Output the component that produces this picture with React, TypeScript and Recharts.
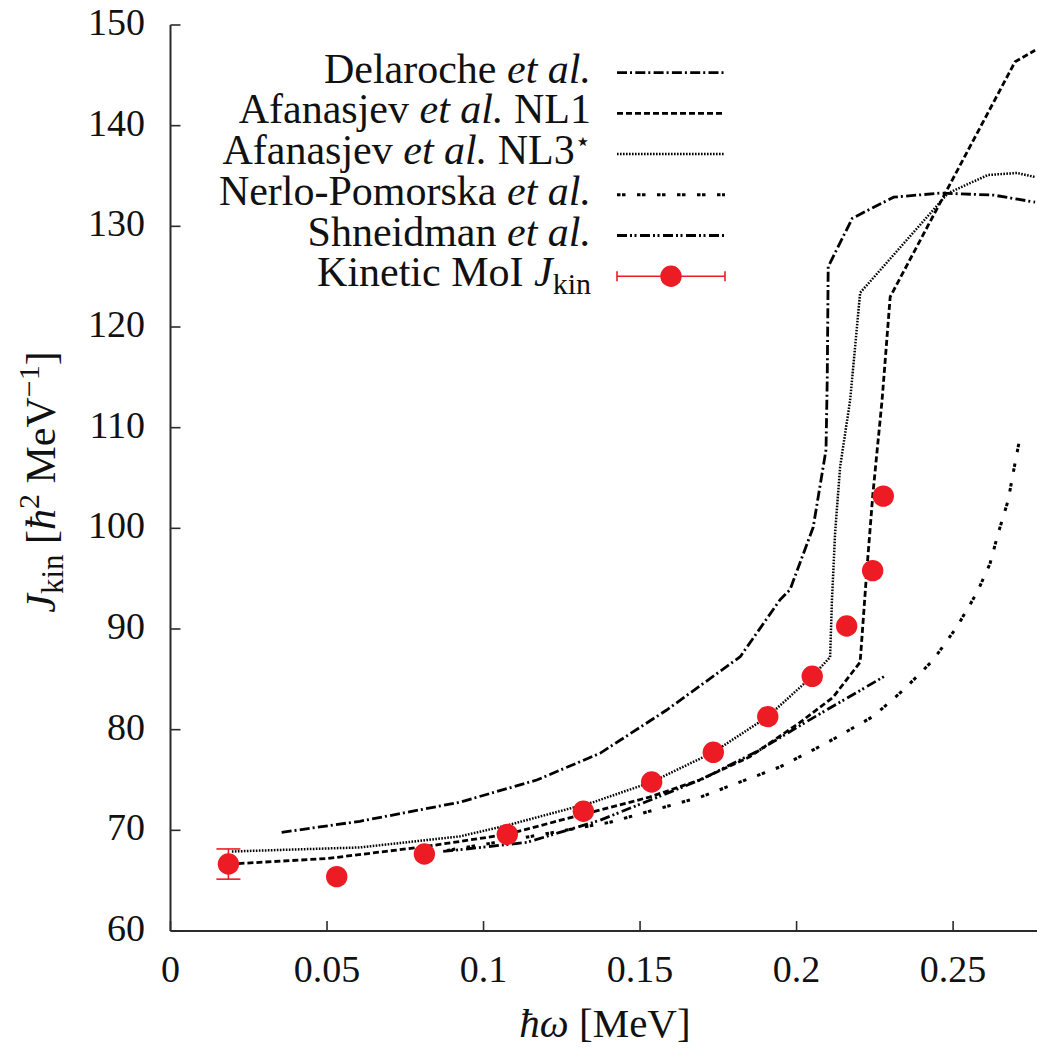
import React from "react";
import {
  ComposedChart,
  Line,
  Scatter,
  ErrorBar,
  XAxis,
  YAxis,
  Customized,
} from "recharts";

const FONT = "'Liberation Serif', 'DejaVu Serif', serif";
const AXIS = "#2b2b2b";
const RED = "#ed1c24";
const X_MAX = 0.2768;

const xTicks = [0, 0.05, 0.1, 0.15, 0.2, 0.25];
const yTicks = [60, 70, 80, 90, 100, 110, 120, 130, 140, 150];

// Delaroche et al.
const delarocheW = [0.0355, 0.0605, 0.0925, 0.117, 0.1372, 0.1585, 0.182, 0.1947, 0.1979, 0.2053, 0.2094, 0.2098, 0.2101, 0.2178, 0.231, 0.246, 0.263, 0.2762];
const delarocheJ = [69.8, 70.9, 72.8, 75.0, 77.65, 81.95, 87.25, 92.9, 93.9, 100.1, 107.8, 115.0, 126.0, 130.8, 132.9, 133.3, 133.1, 132.4];

// Afanasjev et al. NL1
const nl1W = [0.0217, 0.05, 0.0817, 0.1075, 0.1319, 0.153, 0.169, 0.185, 0.201, 0.2116, 0.2203, 0.2225, 0.2244, 0.2273, 0.2299, 0.2698, 0.2762];
const nl1J = [66.7, 67.2, 68.4, 69.6, 71.6, 73.3, 75.0, 77.3, 80.7, 83.2, 86.7, 96.1, 103.5, 112.7, 123.0, 146.35, 147.5];

// Afanasjev et al. NL3*
const nl3W = [0.0196, 0.0605, 0.0925, 0.1076, 0.1351, 0.1537, 0.1734, 0.1908, 0.205, 0.2107, 0.2113, 0.2123, 0.2139, 0.2171, 0.2203, 0.2484, 0.2611, 0.2704, 0.2762];
const nl3J = [67.9, 68.3, 69.4, 70.5, 72.8, 74.8, 77.75, 81.3, 85.3, 87.2, 92.9, 99.5, 106.1, 112.7, 123.4, 133.3, 135.1, 135.3, 134.9];

// Nerlo-Pomorska et al.
const nerloW = [0.0883, 0.1116, 0.1404, 0.1692, 0.1947, 0.2097, 0.2244, 0.234, 0.2436, 0.2512, 0.2576, 0.2618, 0.2644, 0.2676, 0.2698, 0.2711];
const nerloJ = [68.0, 69.2, 70.8, 73.3, 76.3, 78.7, 81.3, 83.9, 86.9, 90.2, 93.6, 96.5, 99.5, 102.8, 106.5, 108.6];

// Shneidman et al.
const shneidmanW = [0.0871, 0.1138, 0.1372, 0.1692, 0.1883, 0.2043, 0.2286];
const shneidmanJ = [67.9, 68.8, 71.0, 75.0, 78.0, 81.0, 85.4];

// Kinetic MoI J_kin (data points)
const kinW = [0.0185, 0.0531, 0.0811, 0.1076, 0.1319, 0.1537, 0.1734, 0.1908, 0.205, 0.216, 0.2243, 0.2277];
const kinJ = [66.65, 65.4, 67.65, 69.6, 71.9, 74.8, 77.75, 81.3, 85.3, 90.3, 95.8, 103.2];
const kinErr = [1.5, 0, 0, 0, 0, 0, 0, 0, 0, 0, 0, 0];

const toPoints = (w: number[], j: number[]) => w.map((x, i) => ({ w: x, J: j[i] }));

const series = [
  { key: "del", data: toPoints(delarocheW, delarocheJ), dash: "10 3 2 3.3", width: 2.8 },
  { key: "nl1", data: toPoints(nl1W, nl1J), dash: "6 3", width: 2.8 },
  { key: "nl3", data: toPoints(nl3W, nl3J), dash: "1.6 1.4", width: 2.5 },
  { key: "ner", data: toPoints(nerloW, nerloJ), dash: "3.5 1.5 3.5 11.5", width: 3 },
  { key: "shn", data: toPoints(shneidmanW, shneidmanJ), dash: "10 3 2 2.5 2 3.5", width: 2.8 },
];

const kinData = kinW.map((x, i) => ({ w: x, J: kinJ[i], err: kinErr[i] }));

const it = { fontStyle: "italic" as const };

const legendLabels = [
  <>Delaroche <tspan {...it}>et al.</tspan></>,
  <>Afanasjev <tspan {...it}>et al.</tspan> NL1</>,
  <>
    Afanasjev <tspan {...it}>et al.</tspan> NL3
    <tspan dy={-14} fontSize={26} fontFamily="'DejaVu Sans'">⋆</tspan>
  </>,
  <>Nerlo-Pomorska <tspan {...it}>et al.</tspan></>,
  <>Shneidman <tspan {...it}>et al.</tspan></>,
  <>
    Kinetic MoI <tspan {...it}>J</tspan>
    <tspan dy={8} fontSize={30}>kin</tspan>
  </>,
];

const BottomTick = ({ x, y, payload }: any) => (
  <g>
    <line x1={x} x2={x} y1={y} y2={y - 10} stroke={AXIS} strokeWidth={1.6} />
    <text x={x} y={y + 51} textAnchor="middle" fontFamily={FONT} fontSize={38} fill="#111">
      {payload.value}
    </text>
  </g>
);

const TopTick = ({ x, y }: any) => (
  <line x1={x} x2={x} y1={y} y2={y + 10} stroke={AXIS} strokeWidth={1.6} />
);

const LeftTick = ({ x, y, payload }: any) => (
  <g>
    <line x1={x} x2={x + 10} y1={y} y2={y} stroke={AXIS} strokeWidth={1.6} />
    <text x={x - 25.5} y={y + 10} textAnchor="end" fontFamily={FONT} fontSize={38} fill="#111">
      {payload.value}
    </text>
  </g>
);

const Decorations = () => {
  const rowY = (i: number) => 72.7 + i * 40.7;
  return (
    <g fontFamily={FONT} fill="#111">
      {legendLabels.map((label, i) => (
        <text key={i} x={591} y={rowY(i) + 10} textAnchor="end" fontSize={42}>
          {label}
        </text>
      ))}
      {series.map((s, i) => (
        <line
          key={s.key}
          x1={617}
          x2={725}
          y1={rowY(i)}
          y2={rowY(i)}
          stroke="#000"
          strokeWidth={s.width}
          strokeDasharray={s.dash}
        />
      ))}
      <g stroke={RED} strokeWidth={1.6}>
        <line x1={617} x2={725} y1={rowY(5)} y2={rowY(5)} />
        <line x1={617} x2={617} y1={rowY(5) - 5} y2={rowY(5) + 5} />
        <line x1={725} x2={725} y1={rowY(5) - 5} y2={rowY(5) + 5} />
      </g>
      <circle cx={671} cy={rowY(5)} r={10.7} fill={RED} />

      <text transform="translate(55, 482) rotate(-90)" textAnchor="middle" fontSize={42}>
        <tspan {...it}>J</tspan>
        <tspan dy={8} fontSize={31}>kin</tspan>
        <tspan dy={-8}> [</tspan>
        <tspan {...it}>ħ</tspan>
        <tspan dy={-16} fontSize={30}>2</tspan>
        <tspan dy={16}> MeV</tspan>
        <tspan dy={-16} fontSize={30}>−1</tspan>
        <tspan dy={16}>]</tspan>
      </text>

      <text x={605} y={1037} textAnchor="middle" fontSize={41}>
        <tspan {...it}>ħω</tspan> [MeV]
      </text>
    </g>
  );
};

export default function App() {
  return (
    <div style={{ position: "absolute", left: 0, top: 0, background: "#fff" }}>
      <ComposedChart width={1037} height={1055} margin={{ top: 25, right: 0, bottom: 64, left: 0 }}>
        <XAxis
          dataKey="w"
          type="number"
          domain={[0, X_MAX]}
          ticks={xTicks}
          interval={0}
          allowDataOverflow
          height={60}
          tickSize={0}
          tickMargin={0}
          tickLine={false}
          tick={BottomTick}
          axisLine={{ stroke: AXIS, strokeWidth: 2 }}
        />
        <XAxis
          xAxisId="top"
          orientation="top"
          dataKey="w"
          type="number"
          domain={[0, X_MAX]}
          ticks={xTicks}
          interval={0}
          allowDataOverflow
          height={0}
          tickSize={0}
          tickMargin={0}
          tickLine={false}
          tick={TopTick}
          axisLine={{ stroke: AXIS, strokeWidth: 2 }}
        />
        <YAxis
          type="number"
          domain={[60, 150]}
          ticks={yTicks}
          interval={0}
          allowDataOverflow
          width={170.5}
          tickSize={0}
          tickMargin={0}
          tickLine={false}
          tick={LeftTick}
          axisLine={{ stroke: AXIS, strokeWidth: 2 }}
        />
        {series.map((s) => (
          <Line
            key={s.key}
            data={s.data}
            dataKey="J"
            type="linear"
            stroke="#000"
            strokeWidth={s.width}
            strokeDasharray={s.dash}
            dot={false}
            activeDot={false}
            isAnimationActive={false}
          />
        ))}
        <Scatter
          data={kinData}
          dataKey="J"
          fill={RED}
          isAnimationActive={false}
          shape={(p: any) => <circle cx={p.cx} cy={p.cy} r={10.7} fill={RED} />}
        >
          <ErrorBar dataKey="err" direction="y" width={12} stroke={RED} strokeWidth={1.6} />
        </Scatter>
        <Customized component={Decorations} />
      </ComposedChart>
    </div>
  );
}
